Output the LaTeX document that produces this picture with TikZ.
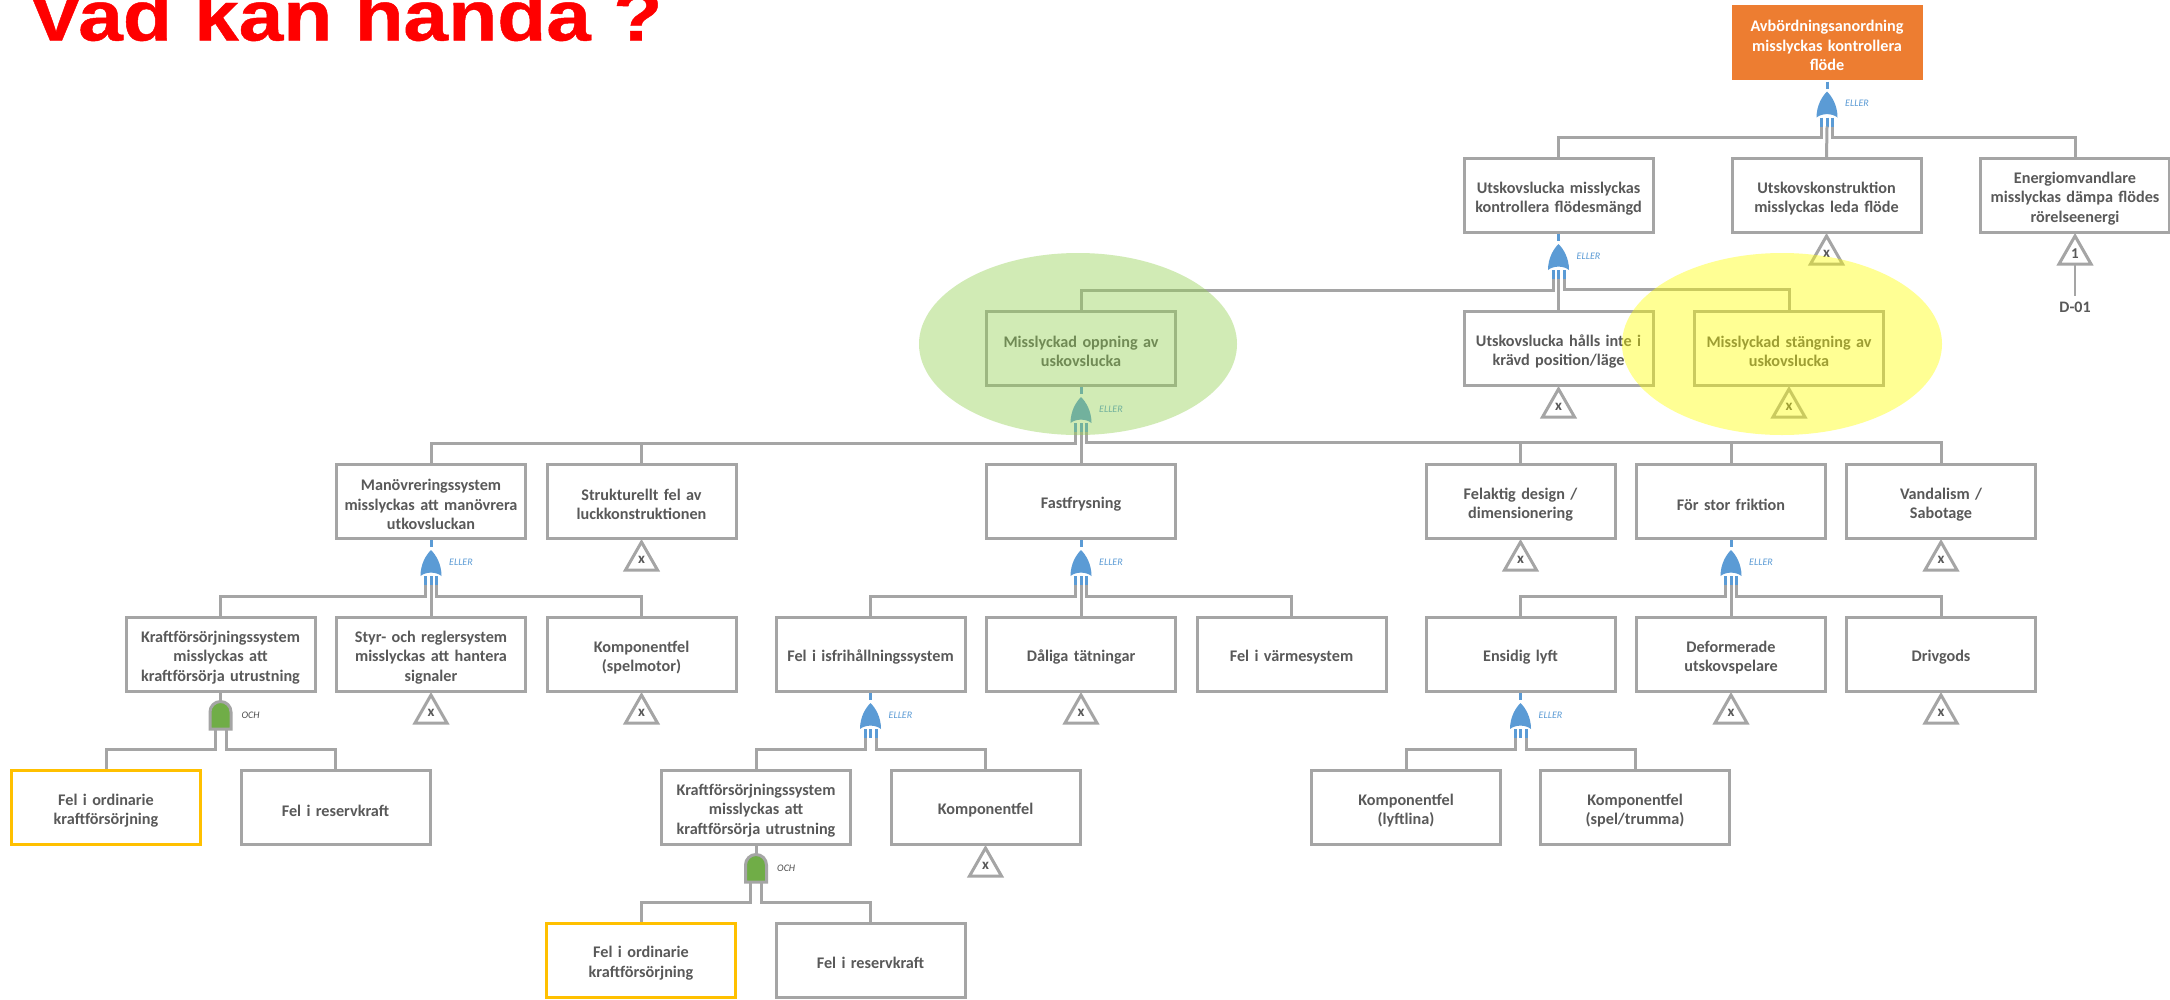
\documentclass[tikz,border=0pt]{standalone}
\usepackage{fontspec}
\setmainfont{Carlito}
\newfontfamily\titlefont[BoldFeatures={FakeBold=0.6}]{Liberation Sans}
\definecolor{linegray}{HTML}{A5A5A5}
\definecolor{txtgray}{HTML}{595959}
\definecolor{gateblue}{HTML}{5B9BD5}
\definecolor{gategreen}{HTML}{70AD47}
\definecolor{topfill}{HTML}{ED7D31}
\definecolor{goldline}{HTML}{FFC000}
\definecolor{hlgreen}{HTML}{92D050}
\definecolor{hlyellow}{HTML}{FFFF00}
\tikzset{
  evbox/.style={draw=linegray,line width=3pt,fill=white,minimum width=189pt,minimum height=74pt,
    inner sep=0pt,text width=187pt,align=center,text=txtgray,font=\fontsize{16.2}{19.5}\selectfont\bfseries,
    execute at begin node={\rule{0pt}{17.5pt}}},
  goldbox/.style={evbox,draw=goldline},
  topbox/.style={evbox,draw=none,fill=topfill,text=white,minimum width=191pt,minimum height=75pt},
  conn/.style={draw=linegray,line width=3pt,line join=miter},
  thin conn/.style={draw=linegray,line width=1.5pt},
  tri/.style={draw=linegray,line width=3pt,fill=white,line join=miter},
  trilabel/.style={inner sep=0pt,text=txtgray,font=\fontsize{15}{15}\selectfont\bfseries},
  orlabel/.style={anchor=west,inner sep=0pt,text=gateblue,font=\fontsize{10}{10}\selectfont\itshape},
  andlabel/.style={anchor=west,inner sep=0pt,text=black!70,font=\fontsize{10}{10}\selectfont\itshape},
  highlight/.style={draw=none,fill=#1,opacity=.42}
}
% OR gate below a box: #1 gate name, #2 parent box
\newcommand{\orgate}[2]{%
  \begin{scope}[shift={(#2.south)}]
    \fill[gateblue] (-10.5,36) .. controls (-10.5,24) and (-5,15) .. (0,10)
      .. controls (5,15) and (10.5,24) .. (10.5,36)
      .. controls (5,31.5) and (-5,31.5) .. (-10.5,36) -- cycle;
    \draw[gateblue,line width=3pt] (0,0) -- (0,7);
    \draw[gateblue,line width=3pt] (-5.5,36) -- (-5.5,45);
    \draw[gateblue,line width=3pt] (0,36) -- (0,45);
    \draw[gateblue,line width=3pt] (5.5,36) -- (5.5,45);
    \coordinate (#1-l) at (-5.5,45);
    \coordinate (#1-c) at (0,45);
    \coordinate (#1-r) at (5.5,45);
    \node[orlabel] (#1-t) at (18,22) {ELLER};
  \end{scope}}
% AND gate below a box
\newcommand{\andgate}[2]{%
  \begin{scope}[shift={(#2.south)}]
    \draw[conn] (0,0) -- (0,8);
    \draw[conn,fill=gategreen] (-10.5,36) -- (-10.5,19) arc[start angle=180,end angle=360,radius=10.5] -- (10.5,36) -- cycle;
    \coordinate (#1-l) at (-5.5,36);
    \coordinate (#1-r) at (5.5,36);
    \node[andlabel] (#1-t) at (21,22) {OCH};
  \end{scope}}
% transfer triangle below a box: #1 name, #2 parent, #3 mark
\newcommand{\trimark}[3]{%
  \begin{scope}[shift={(#2.south)}]
    \draw[tri] (0,2) -- (16,30) -- (-16,30) -- cycle;
    \coordinate (#1-b) at (0,30);
    \node[trilabel] (#1) at (0,20) {#3};
  \end{scope}}
\begin{document}
\begin{tikzpicture}[x=1pt,y=-1pt]
\useasboundingbox (0,0) rectangle (2170,999);
\clip (0,0) rectangle (2170,999);
\fill[white] (0,0) rectangle (2170,999);
\node[anchor=base west,inner sep=0pt,text=red,font=\fontsize{71}{71}\selectfont\titlefont\bfseries] (title) at (29,40.5) {\scalebox{1.13}[1]{Vad kan hända ?}};

% boxes
\node[topbox] (top) at (1827,42.5) {Avbördningsanordning\\misslyckas kontrollera\\flöde};
\node[evbox] (uk) at (1558.5,195.5) {Utskovslucka misslyckas\\kontrollera flödesmängd};
\node[evbox] (ul) at (1826.5,195.5) {Utskovskonstruktion\\misslyckas leda flöde};
\node[evbox] (en) at (2075,195.5) {Energiomvandlare\\misslyckas dämpa flödes\\rörelseenergi};
\node[evbox] (mo) at (1081,348.5) {Misslyckad oppning av\\uskovslucka};
\node[evbox] (uh) at (1558.5,348.5) {Utskovslucka hålls inte i\\krävd position/läge};
\node[evbox] (ms) at (1789,348.5) {Misslyckad stängning av\\uskovslucka};
\node[evbox] (ma) at (431,501.5) {Manövreringssystem\\misslyckas att manövrera\\utkovsluckan};
\node[evbox] (st) at (641.5,501.5) {Strukturellt fel av\\luckkonstruktionen};
\node[evbox] (fa) at (1081,501.5) {Fastfrysning};
\node[evbox] (fd) at (1520.5,501.5) {Felaktig design /\\dimensionering};
\node[evbox] (fr) at (1731,501.5) {För stor friktion};
\node[evbox] (va) at (1941,501.5) {Vandalism /\\Sabotage};
\node[evbox] (kr) at (220.5,654.5) {Kraftförsörjningssystem\\misslyckas att\\kraftförsörja utrustning};
\node[evbox] (sy) at (431,654.5) {Styr- och reglersystem\\misslyckas att hantera\\signaler};
\node[evbox] (ks) at (641.5,654.5) {Komponentfel\\(spelmotor)};
\node[evbox] (is) at (870.5,654.5) {Fel i isfrihållningssystem};
\node[evbox] (dt) at (1081,654.5) {Dåliga tätningar};
\node[evbox] (vs) at (1291.5,654.5) {Fel i värmesystem};
\node[evbox] (el) at (1520.5,654.5) {Ensidig lyft};
\node[evbox] (de) at (1731,654.5) {Deformerade\\utskovspelare};
\node[evbox] (dr) at (1941,654.5) {Drivgods};
\node[goldbox] (fo1) at (106,807.5) {Fel i ordinarie\\kraftförsörjning};
\node[evbox] (fk1) at (335.5,807.5) {Fel i reservkraft};
\node[evbox] (kr2) at (756,807.5) {Kraftförsörjningssystem\\misslyckas att\\kraftförsörja utrustning};
\node[evbox] (kp) at (985.5,807.5) {Komponentfel};
\node[evbox] (kl) at (1406,807.5) {Komponentfel\\(lyftlina)};
\node[evbox] (kt) at (1635,807.5) {Komponentfel\\(spel/trumma)};
\node[goldbox] (fo2) at (641,960) {Fel i ordinarie\\kraftförsörjning};
\node[evbox] (fk2) at (870.5,960) {Fel i reservkraft};

% gates
\orgate{g1}{top}
\orgate{g2}{uk}
\orgate{g3}{mo}
\orgate{g4}{ma}
\orgate{g5}{fa}
\orgate{g6}{fr}
\orgate{g7}{is}
\orgate{g8}{el}
\andgate{a1}{kr}
\andgate{a2}{kr2}

% connectors
\draw[conn] (g1-l) |- ([yshift=19.5pt]uk.north) -- (uk.north);
\draw[conn] (g1-c) -- (ul.north);
\draw[conn] (g1-r) |- ([yshift=19.5pt]en.north) -- (en.north);

\draw[conn] (g2-l) |- ([yshift=19.5pt]mo.north) -- (mo.north);
\draw[conn] (g2-c) -- (uh.north);
\draw[conn] (g2-r) |- ([yshift=20.5pt]ms.north) -- (ms.north);

\draw[conn] (g3-l) |- ([yshift=19.5pt]ma.north) -- (ma.north);
\draw[conn] (g3-l) |- ([yshift=19.5pt]st.north) -- (st.north);
\draw[conn] (g3-c) -- (fa.north);
\draw[conn] (g3-r) |- ([yshift=20.5pt]fd.north) -- (fd.north);
\draw[conn] (g3-r) |- ([yshift=20.5pt]fr.north) -- (fr.north);
\draw[conn] (g3-r) |- ([yshift=20.5pt]va.north) -- (va.north);

\draw[conn] (g4-l) |- ([yshift=19.5pt]kr.north) -- (kr.north);
\draw[conn] (g4-c) -- (sy.north);
\draw[conn] (g4-r) |- ([yshift=19.5pt]ks.north) -- (ks.north);

\draw[conn] (g5-l) |- ([yshift=19.5pt]is.north) -- (is.north);
\draw[conn] (g5-c) -- (dt.north);
\draw[conn] (g5-r) |- ([yshift=19.5pt]vs.north) -- (vs.north);

\draw[conn] (g6-l) |- ([yshift=19.5pt]el.north) -- (el.north);
\draw[conn] (g6-c) -- (de.north);
\draw[conn] (g6-r) |- ([yshift=19.5pt]dr.north) -- (dr.north);

\draw[conn] (g7-l) |- ([yshift=19.5pt]kr2.north) -- (kr2.north);
\draw[conn] (g7-r) |- ([yshift=19.5pt]kp.north) -- (kp.north);

\draw[conn] (g8-l) |- ([yshift=19.5pt]kl.north) -- (kl.north);
\draw[conn] (g8-r) |- ([yshift=19.5pt]kt.north) -- (kt.north);

\draw[conn] (a1-l) |- ([yshift=19.5pt]fo1.north) -- (fo1.north);
\draw[conn] (a1-r) |- ([yshift=19.5pt]fk1.north) -- (fk1.north);
\draw[conn] (a2-l) |- ([yshift=19.5pt]fo2.north) -- (fo2.north);
\draw[conn] (a2-r) |- ([yshift=19.5pt]fk2.north) -- (fk2.north);

% triangles
\trimark{t-ul}{ul}{x}
\trimark{t-en}{en}{1}
\trimark{t-uh}{uh}{x}
\trimark{t-ms}{ms}{x}
\trimark{t-st}{st}{x}
\trimark{t-fd}{fd}{x}
\trimark{t-va}{va}{x}
\trimark{t-sy}{sy}{x}
\trimark{t-ks}{ks}{x}
\trimark{t-dt}{dt}{x}
\trimark{t-de}{de}{x}
\trimark{t-dr}{dr}{x}
\trimark{t-kp}{kp}{x}
\node[inner sep=0pt,text=txtgray,font=\fontsize{16}{16}\selectfont\bfseries] (d01) at (2075,307) {D-01};
\draw[thin conn] (t-en-b) -- ([yshift=6pt]d01.north);

% highlights
\fill[highlight=hlgreen] (1078,344) ellipse[x radius=159,y radius=91];
\fill[highlight=hlyellow] (1782,344) ellipse[x radius=160,y radius=91];
\end{tikzpicture}
\end{document}
